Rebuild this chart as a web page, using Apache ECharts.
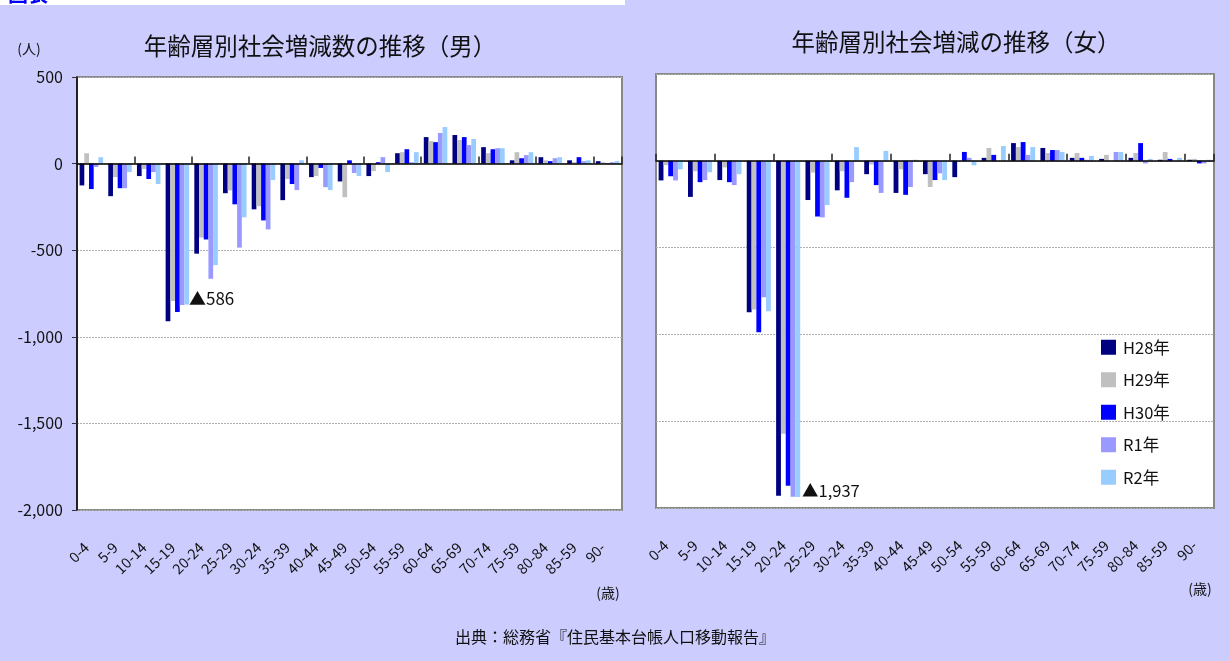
<!DOCTYPE html>
<html>
<head>
<meta charset="utf-8">
<script src="https://cdn.jsdelivr.net/npm/echarts@6/dist/echarts.min.js"></script>
<style>
html,body{margin:0;padding:0;background:#fff;}
#chart{width:1230px;height:661px;}
</style>
</head>
<body>
<div id="chart"></div>
<script>
const categories = ['0-4','5-9','10-14','15-19','20-24','25-29','30-24','35-39','40-44','45-49','50-54','55-59','60-64','65-69','70-74','75-59','80-84','85-59','90-'];
const seriesNames = ['H28年','H29年','H30年','R1年','R2年'];
const seriesColors = ['#000080','#c0c0c0','#0000ff','#9999ff','#99ccff'];
const yTicks = [500, 0, -500, -1000, -1500, -2000];

// 男
const maleH28 = [-126,-188,-72,-910,-520,-171,-264,-211,-78,-103,-72,60,153,165,95,19,37,19,14];
const maleH29 = [60,-78,-31,-793,-427,-155,-246,-89,-72,-194,-43,66,130,136,60,66,19,8,8];
const maleH30 = [-147,-142,-89,-857,-438,-235,-328,-118,-25,19,8,83,124,153,83,31,14,37,2];
const maleR1  = [-19,-142,-49,-817,-665,-485,-380,-153,-136,-54,37,8,177,107,89,49,31,14,8];
const maleR2  = [37,-49,-118,-813,-586,-310,-95,19,-153,-72,-49,66,211,142,89,66,37,19,14];

// 女
const femaleH28 = [-113,-208,-111,-872,-1929,-226,-170,-77,-185,-77,-94,17,102,74,17,11,17,6,6];
const femaleH29 = [-25,-60,-38,-856,-1573,-68,-60,-21,-49,-151,0,74,79,45,45,34,45,51,11];
const femaleH30 = [-89,-123,-123,-987,-1872,-321,-213,-140,-196,-111,51,34,108,62,17,0,102,11,-15];
const femaleR1  = [-113,-111,-140,-786,-1935,-326,-123,-185,-151,-72,17,0,34,62,6,51,-15,0,-15];
const femaleR2  = [-49,-66,-77,-866,-1937,-255,79,57,6,-111,-26,85,79,51,28,51,11,17,6];

const maleData = [maleH28, maleH29, maleH30, maleR1, maleR2];
const femaleData = [femaleH28, femaleH29, femaleH30, femaleR1, femaleR2];

const FONT = '"Noto Sans CJK JP", "Noto Sans", sans-serif';
const chart = echarts.init(document.getElementById('chart'), null, {renderer: 'canvas'});

const grids = [
  {left: 77, top: 77, width: 545, height: 433},
  {left: 656, top: 74, width: 558, height: 434}
];

function makeXAxes(gi) {
  return [
    { // zero line with ticks
      type: 'category', gridIndex: gi, data: categories, position: 'bottom',
      axisLine: {show: true, onZero: true, lineStyle: {color: '#000', width: 1.5}},
      axisTick: {show: true, inside: true, length: 7, lineStyle: {color: '#222', width: 1.5}},
      axisLabel: {show: false}, splitLine: {show: false}, z: 5
    },
    { // labels at bottom
      type: 'category', gridIndex: gi, data: categories, position: 'bottom',
      axisLine: {show: false, onZero: false}, axisTick: {show: false},
      axisLabel: {show: true, interval: 0, rotate: 45, margin: 30, padding: [0, 7, 0, 0], fontSize: 14.5, color: '#111', fontFamily: FONT, hideOverlap: false},
      splitLine: {show: false}
    }
  ];
}

const option = {
  backgroundColor: '#ccccff',
  animation: false,
  textStyle: {fontFamily: FONT},
  grid: grids.map(g => Object.assign({show: true, backgroundColor: '#ffffff', borderColor: '#888888', borderWidth: 2, containLabel: false}, g)),
  xAxis: [].concat(makeXAxes(0), makeXAxes(1)),
  yAxis: [
    {
      type: 'value', gridIndex: 0, min: -2000, max: 500, interval: 500,
      axisLine: {show: true, lineStyle: {color: '#000', width: 1.5}},
      axisTick: {show: true, inside: false, length: 5, lineStyle: {color: '#333'}},
      axisLabel: {show: true, margin: 14, fontSize: 16, color: '#111', fontFamily: FONT,
        formatter: v => v.toLocaleString('en-US')},
      splitLine: {show: true, lineStyle: {color: '#b0b0b0', type: [2, 1], width: 1}}
    },
    {
      type: 'value', gridIndex: 1, min: -2000, max: 500, interval: 500,
      axisLine: {show: false}, axisTick: {show: false},
      axisLabel: {show: false},
      splitLine: {show: true, lineStyle: {color: '#b0b0b0', type: [2, 1], width: 1}}
    }
  ],
  legend: {
    show: true, orient: 'vertical', left: 1096, top: 334, itemGap: 16,
    itemWidth: 15, itemHeight: 15, icon: 'rect',
    textStyle: {fontSize: 16.5, color: '#111', fontFamily: FONT, padding: [0, 0, 0, 2]},
    data: seriesNames
  },
  series: [],
  graphic: [
    {type: 'rect', shape: {x: 0, y: 0, width: 625, height: 5}, style: {fill: '#ffffff'}, z: 100},
    {type: 'text', style: {text: '図表', x: 8, y: -16, fill: '#0000ff', font: 'bold 20px ' + FONT}, z: 101},
    {type: 'text', style: {text: '年齢層別社会増減数の推移（男）', x: 320, y: 46, textAlign: 'center', textVerticalAlign: 'middle', fill: '#111', font: '23.5px ' + FONT}},
    {type: 'text', style: {text: '(人)', x: 29, y: 49, textAlign: 'center', textVerticalAlign: 'middle', fill: '#111', font: '14px ' + FONT}},
    {type: 'text', style: {text: '年齢層別社会増減の推移（女）', x: 956, y: 42, textAlign: 'center', textVerticalAlign: 'middle', fill: '#111', font: '23.5px ' + FONT}},
    {type: 'text', style: {text: '▲586', x: 189, y: 299, textAlign: 'left', textVerticalAlign: 'middle', fill: '#111', font: '17px ' + FONT}, z: 50},
    {type: 'text', style: {text: '▲1,937', x: 802, y: 491, textAlign: 'left', textVerticalAlign: 'middle', fill: '#111', font: '16.5px ' + FONT}, z: 50},
    {type: 'text', style: {text: '(歳)', x: 608, y: 593, textAlign: 'center', textVerticalAlign: 'middle', fill: '#111', font: '14px ' + FONT}},
    {type: 'text', style: {text: '(歳)', x: 1200, y: 589, textAlign: 'center', textVerticalAlign: 'middle', fill: '#111', font: '14px ' + FONT}},
    {type: 'text', style: {text: '出典：総務省『住民基本台帳人口移動報告』', x: 615, y: 637, textAlign: 'center', textVerticalAlign: 'middle', fill: '#111', font: '16px ' + FONT}}
  ]
};

seriesNames.forEach((name, i) => {
  option.series.push({
    name: name, type: 'bar', xAxisIndex: 0, yAxisIndex: 0, data: maleData[i],
    itemStyle: {color: seriesColors[i]}, barGap: '0%', barCategoryGap: '18%'
  });
});
seriesNames.forEach((name, i) => {
  option.series.push({
    name: name, type: 'bar', xAxisIndex: 2, yAxisIndex: 1, data: femaleData[i],
    itemStyle: {color: seriesColors[i]}, barGap: '0%', barCategoryGap: '18%'
  });
});

chart.setOption(option);
</script>
</body>
</html>
